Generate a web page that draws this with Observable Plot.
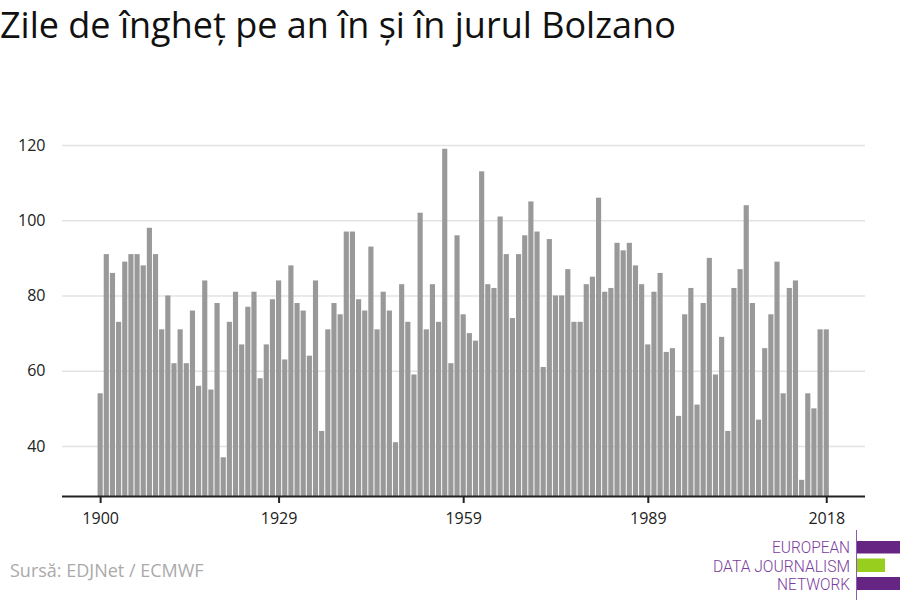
<!DOCTYPE html>
<html>
<head>
<meta charset="utf-8">
<script src="https://cdn.jsdelivr.net/npm/d3@7"></script>
<script src="https://cdn.jsdelivr.net/npm/@observablehq/plot@0.6"></script>
<style>
  body { margin: 0; background: #fff; font-family: "Open Sans", sans-serif; }
  #wrap { position: relative; width: 900px; height: 600px; overflow: hidden; }
  #chart { position: absolute; left: 0; top: 0; }
  #title { position: absolute; left: 0; top: 0; font-size: 36px; line-height: normal; color: #111; white-space: nowrap; }
  #source { position: absolute; left: 10px; top: 560px; font-size: 18px; line-height: 20px; color: #aaa; white-space: nowrap; }
  #logo { position: absolute; left: 690px; top: 520px; }
</style>
</head>
<body>
<div id="wrap">
  <div id="chart"></div>
  <div id="title">Zile de îngheț pe an în și în jurul Bolzano</div>
  <div id="source">Sursă: EDJNet / ECMWF</div>
  <svg id="logo" width="210" height="80" xmlns="http://www.w3.org/2000/svg">
    <line x1="166.5" y1="10" x2="166.5" y2="80" stroke="#8e5bb0" stroke-width="1"/>
    <rect x="167" y="21" width="43" height="12.5" fill="#662483"/>
    <rect x="167" y="38.5" width="28" height="13.5" fill="#98cf1f"/>
    <rect x="167" y="57" width="43" height="13" fill="#662483"/>
    <g font-family="Roboto, sans-serif" font-size="16" font-weight="300" fill="#7b3c9e" text-anchor="end">
      <text x="160" y="33" textLength="78" lengthAdjust="spacingAndGlyphs">EUROPEAN</text>
      <text x="160" y="52" textLength="137" lengthAdjust="spacingAndGlyphs">DATA JOURNALISM</text>
      <text x="160" y="70" textLength="73" lengthAdjust="spacingAndGlyphs">NETWORK</text>
    </g>
  </svg>
</div>
<script>
// Frost days per year in and around Bolzano, 1900–2018
const firstYear = 1900;
const frostDays = [
  54, 91, 86, 73, 89, 91, 91, 88, 98, 91,   // 1900-1909
  71, 80, 62, 71, 62, 76, 56, 84, 55, 78,   // 1910-1919
  37, 73, 81, 67, 77, 81, 58, 67, 79, 84,   // 1920-1929
  63, 88, 78, 76, 64, 84, 44, 71, 78, 75,   // 1930-1939
  97, 97, 79, 76, 93, 71, 81, 76, 41, 83,   // 1940-1949
  73, 59, 102, 71, 83, 73, 119, 62, 96, 75, // 1950-1959
  70, 68, 113, 83, 82, 101, 91, 74, 91, 96, // 1960-1969
  105, 97, 61, 95, 80, 80, 87, 73, 73, 83,  // 1970-1979
  85, 106, 81, 82, 94, 92, 94, 88, 83, 67,  // 1980-1989
  81, 86, 65, 66, 48, 75, 82, 51, 78, 90,   // 1990-1999
  59, 69, 44, 82, 87, 104, 78, 47, 66, 75,  // 2000-2009
  89, 54, 82, 84, 31, 54, 50, 71, 71        // 2010-2018
];
const xTicks = [1900, 1929, 1959, 1989, 2018];
const yTicks = [40, 60, 80, 100, 120];

const data = frostDays.map((days, i) => ({ year: firstYear + i, days }));

const yMin = 26.7;

const chart = Plot.plot({
  width: 900,
  height: 600,
  marginTop: 145,
  marginBottom: 104,
  marginLeft: 62,
  marginRight: 35,
  style: { fontFamily: "Open Sans, sans-serif", fontSize: "16px", color: "#222", background: "transparent" },
  x: { domain: [1893.8, 2024.3] },
  y: { domain: [yMin, 120] },
  marks: [
    Plot.ruleY(yTicks, { stroke: "#e3e3e3", strokeWidth: 1.5 }),
    Plot.rectY(data, {
      x1: d => d.year - 0.5,
      x2: d => d.year + 0.5,
      y1: yMin,
      y2: "days",
      fill: "#999999",
      insetLeft: 0.5,
      insetRight: 0.5
    }),
    Plot.ruleY([yMin], { stroke: "#222", strokeWidth: 2 }),
    Plot.axisX({ ticks: xTicks, tickFormat: d => String(d), tickSize: 7, tickPadding: 9, stroke: "#222", strokeWidth: 2, label: null }),
    Plot.axisY({ ticks: yTicks, tickSize: 0, tickPadding: 17, label: null })
  ]
});
document.getElementById("chart").appendChild(chart);
</script>
</body>
</html>
